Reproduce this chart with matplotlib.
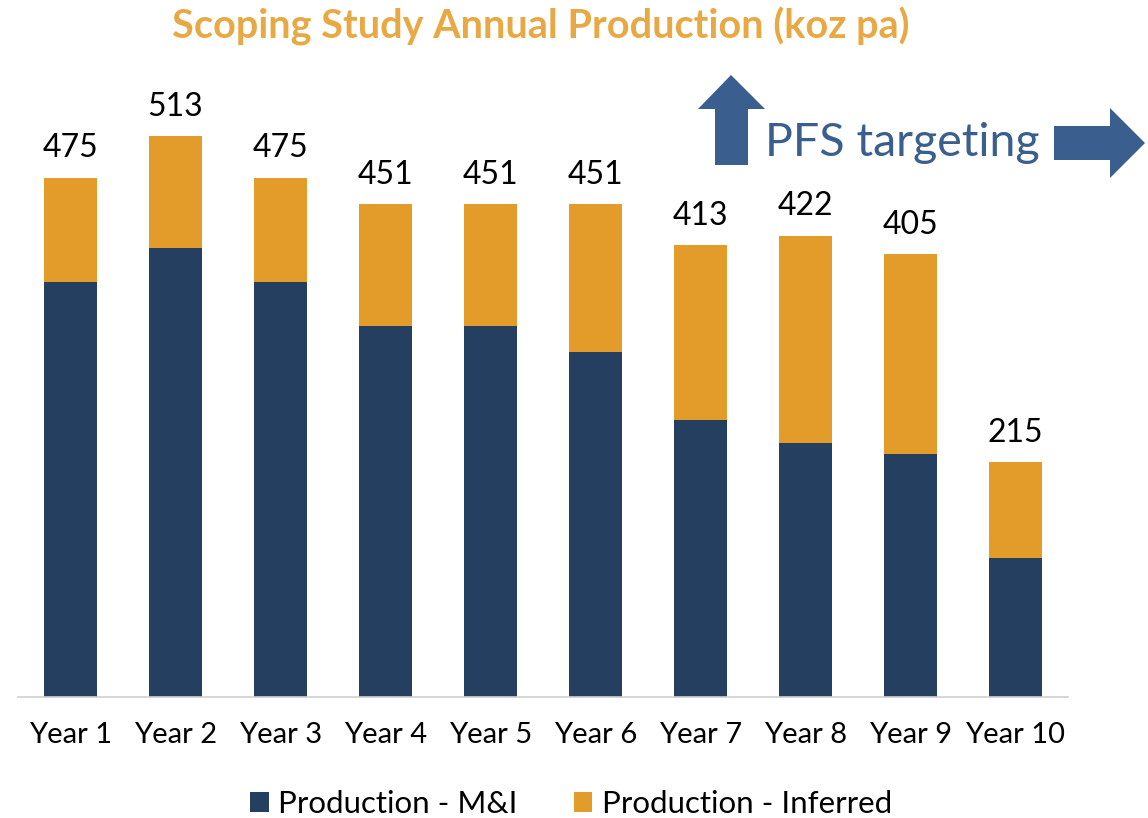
import matplotlib
matplotlib.use("Agg")
import matplotlib.pyplot as plt
from matplotlib.patches import Polygon
import numpy as np

categories = ["Year 1", "Year 2", "Year 3", "Year 4", "Year 5",
              "Year 6", "Year 7", "Year 8", "Year 9", "Year 10"]
totals = [475, 513, 475, 451, 451, 451, 413, 422, 405, 215]
mi = [380, 411, 380, 339, 339, 316, 253, 232, 222, 127]
inferred = [t - m for t, m in zip(totals, mi)]

NAVY = "#253f60"
ORANGE = "#e39b29"
TITLE_C = "#e8a945"
ARROW_C = "#3a5f8f"

plt.rcParams['font.family'] = ['Lato', 'DejaVu Sans']

W, H = 1148, 818
fig = plt.figure(figsize=(W / 100, H / 100), dpi=100)
ax = fig.add_axes([18 / W, 1 - 697 / H, 1050 / W, 656 / H])

x = np.arange(len(categories))
ax.bar(x, mi, width=0.5, color=NAVY, label="Production - M&I")
ax.bar(x, inferred, width=0.5, bottom=mi, color=ORANGE, label="Production - Inferred")
for xi, t in zip(x, totals):
    ax.text(xi, t + 13, f"{t}", ha="center", va="bottom", fontsize=23, color="black")

ax.set_xlim(-0.5, 9.5)
ax.set_ylim(0, 600)
ax.set_xticks(x)
ax.set_xticklabels(categories, fontsize=21)
ax.tick_params(axis="x", length=0, pad=18)
ax.set_yticks([])
for s in ["top", "right", "left"]:
    ax.spines[s].set_visible(False)
ax.spines["bottom"].set_color("#d0d0d0")
ax.spines["bottom"].set_linewidth(1.2)

leg = ax.legend(loc="center", bbox_to_anchor=(553 / 1050, (697 - 804) / 656), ncol=2,
                frameon=False, fontsize=22.5, handlelength=0.6, handleheight=0.6,
                handletextpad=0.3, columnspacing=1.8, borderpad=0.1)

fig.text(541 / W, 1 - 26 / H, "Scoping Study Annual Production (koz pa)",
         ha="center", va="center", fontsize=28.5, fontweight="bold", color=TITLE_C)
fig.text(765 / W, 1 - 143 / H, "PFS targeting", ha="left", va="center",
         fontsize=33.5, color=ARROW_C)

def px(pts):
    return [(a / W, 1 - b / H) for a, b in pts]

up = px([(731, 75), (765, 109), (748, 109), (748, 165), (715, 165), (715, 109), (698, 109)])
right = px([(1145, 143), (1110, 108), (1110, 126), (1054, 126), (1054, 160), (1110, 160), (1110, 178)])
for pts in (up, right):
    fig.patches.append(Polygon(pts, closed=True, transform=fig.transFigure,
                               facecolor=ARROW_C, edgecolor="none"))

fig.savefig("out.png", dpi=100)
